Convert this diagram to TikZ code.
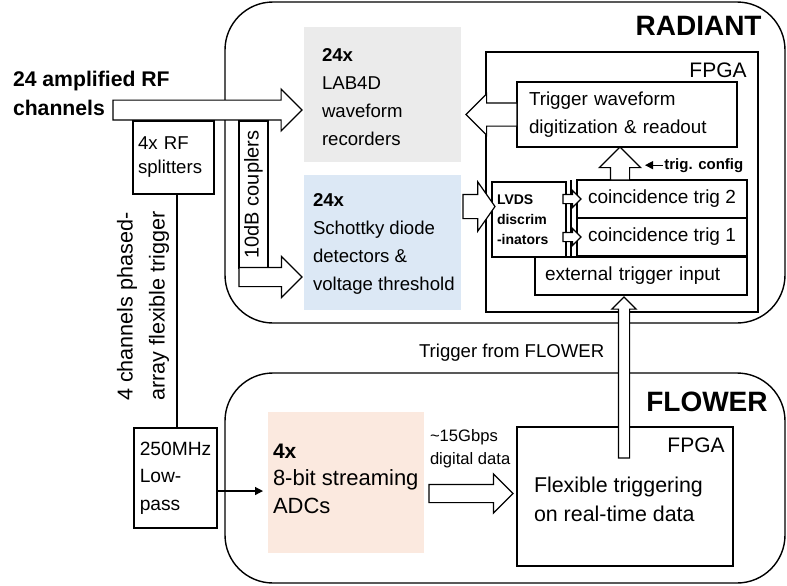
\documentclass[tikz,border=0pt]{standalone}
\usepackage{fontspec}
\setmainfont{Liberation Sans}
\usetikzlibrary{shapes.arrows,arrows.meta}

\definecolor{labgray}{HTML}{EBEBEB}
\definecolor{schblue}{HTML}{DCE8F5}
\definecolor{adcpeach}{HTML}{FBE9DF}

\begin{document}
\begin{tikzpicture}[x=0.5pt, y=-0.5pt,
  box/.style={draw, line width=0.6pt, inner sep=0pt, outer sep=0pt, align=left, font=\fontsize{9.3}{13.9}\selectfont},
  panel/.style={draw, line width=0.7pt, rounded corners=24pt, inner sep=0pt, outer sep=0pt},
  fpga/.style={draw, line width=1.1pt, inner sep=0pt, outer sep=0pt},
  shade/.style={inner sep=0pt, outer sep=0pt},
  txt/.style={inner sep=0pt, outer sep=0pt, align=left, font=\fontsize{9.3}{13.9}\selectfont},
  title/.style={inner sep=0pt, anchor=base east, font=\fontsize{14}{16}\selectfont\bfseries},
  fat/.style 2 args={single arrow, draw, fill=white, line width=0.6pt, inner xsep=0pt, inner ysep=#1, single arrow head extend=#2, single arrow tip angle=90, outer sep=0pt, minimum width=0pt, anchor=tail},
  thin/.style={line width=0.6pt, -{Triangle[length=4pt,width=4pt]}}
]
\useasboundingbox (0,0) rectangle (787,585);

\node[panel, minimum width=280pt, minimum height=160.5pt] (radiant) at (505,162.5) {};
\node[panel, minimum width=280pt, minimum height=105pt] (flower) at (505,478) {};
\node[title] (radianttitle) at (762,35) {RADIANT};
\node[title] (flowertitle) at (768,411) {FLOWER};

\node[txt, anchor=north west, font=\fontsize{10.6}{14.5}\selectfont\bfseries] (rftxt) at (13,71) {24 amplified RF\\channels};
\coordinate (rfend) at (113,110);

\node[box, minimum width=40.5pt, minimum height=36.5pt, text width=35.5pt, inner xsep=2.5pt, font=\fontsize{9.3}{12}\selectfont] (split) at (173.5,157.5) {4x RF\\splitters};
\node[box, rotate=90, align=center, minimum width=73.5pt, minimum height=14.5pt, font=\fontsize{10}{12}\selectfont] (coup) at (253.5,194.5) {10dB couplers};
\coordinate (coupout) at (239,277);

\node[shade, fill=labgray, minimum width=78.5pt, minimum height=67.5pt] (lab) at (382.5,94.5) {};
\node[txt, anchor=north west] (labtxt) at (322,49) {\textbf{24x}\\LAB4D\\waveform\\recorders};
\node[shade, fill=schblue, minimum width=78.5pt, minimum height=67.5pt] (sch) at (382.5,242.5) {};
\node[txt, anchor=north west, font=\fontsize{9.3}{14}\selectfont] (schtxt) at (313,194) {\textbf{24x}\\Schottky diode\\detectors \&\\voltage threshold};
\coordinate (schout) at (463,206.5);

\node[fpga, minimum width=136pt, minimum height=130pt] (rfpga) at (622,182) {};
\node[inner sep=0pt, anchor=base east, font=\fontsize{10.5}{12}\selectfont] (rfpgatxt) at (747,77) {FPGA};
\node[box, minimum width=110pt, minimum height=32.5pt, text width=98pt, inner xsep=6pt, font=\fontsize{9.4}{14}\selectfont] (trw) at (627,114.5) {Trigger waveform\\digitization \& readout};
\node[box, minimum width=106pt, minimum height=19pt, text width=96pt, inner xsep=5pt, font=\fontsize{9.5}{12}\selectfont] (ext) at (641,276) {external trigger input};
\node[box, fill=white, minimum width=37pt, minimum height=37.5pt, text width=32pt, inner xsep=2.5pt, font=\fontsize{7}{10}\selectfont\bfseries] (lvds) at (529,219.5) {LVDS\\discrim\\-inators};
\node[box, minimum width=85pt, minimum height=19pt, font=\fontsize{9.5}{12}\selectfont] (ct2) at (662,199) {coincidence trig 2};
\node[box, minimum width=85pt, minimum height=19pt, font=\fontsize{9.5}{12}\selectfont] (ct1) at (662,237) {coincidence trig 1};
\draw [line width=0.6pt] (ct2.north west) ++(-6,0) -- ++(0,77);
\node[inner sep=0pt, anchor=base west, font=\fontsize{7.5}{9}\selectfont\bfseries] (trigcfg) at (664,169) {trig. config};
\draw [thin] ([xshift=-0.5pt]trigcfg.west) -- ++(-18,0);

\node[txt, rotate=90, font=\fontsize{10.8}{16}\selectfont] (phased) at (143,306) {4 channels phased-\\array flexible trigger};
\node[box, minimum width=41.5pt, minimum height=50pt, font=\fontsize{9.6}{13.75}\selectfont] (lp) at (175.5,478) {250MHz\\Low-\\pass};
\draw [line width=0.6pt] (split.south) ++(3.5,0) -- ++(0,234);
\node[shade, fill=adcpeach, minimum width=78pt, minimum height=70.5pt] (adc) at (346,482.5) {};
\node[txt, anchor=north west, font=\fontsize{11}{13.75}\selectfont] (adctxt) at (273,444) {{\fontsize{10.5}{12}\selectfont\bfseries 4x}\\8-bit streaming\\ADCs};
\draw [thin] ([yshift=-6.5pt]lp.east) -- ++(46,0);
\coordinate (adcout) at (429,493.5);
\node[txt, anchor=north west, font=\fontsize{8.3}{11.5}\selectfont] (gbps) at (430,429) {\textasciitilde 15Gbps\\digital data};

\node[fpga, minimum width=108pt, minimum height=69.5pt] (ffpga) at (625,496.5) {};
\node[inner sep=0pt, anchor=base east, font=\fontsize{10.5}{12}\selectfont] (ffpgatxt) at (725,452) {FPGA};
\node[txt, anchor=north west, font=\fontsize{10.7}{14.5}\selectfont] (flextxt) at (534,477) {Flexible triggering\\on real-time data};
\node[txt, anchor=base west] (fromflower) at (419,357) {Trigger from FLOWER};
\coordinate (flowsrc) at (624,458);

\node[fat={4.65pt}{5.5pt}, minimum height=94.5pt] (inarr) at (rfend) {};
\node[fat={4.5pt}{5.5pt}, minimum height=31.5pt] (couparr) at (coupout) {};
\node[fat={5.5pt}{4.5pt}, minimum height=25.5pt, rotate=180] (rdarr) at (trw.west) {};
\node[fat={5.75pt}{6.25pt}, minimum height=16pt, single arrow tip angle=110] (scharr) at (schout) {};
\node[fat={4.5pt}{5.5pt}, minimum height=16.5pt, rotate=90] (uparr) at ([xshift=-21pt]ct2.north) {};
\node[fat={2pt}{2pt}, minimum height=9pt] (sarr2) at ([xshift=-7pt]ct2.west) {};
\node[fat={2pt}{2pt}, minimum height=9pt] (sarr1) at ([xshift=-7pt]ct1.west) {};
\node[fat={4.25pt}{5.25pt}, minimum height=42pt] (dataarr) at (adcout) {};
\node[fat={2.5pt}{3.25pt}, minimum height=80.5pt, rotate=90] (flowarr) at (flowsrc) {};
\end{tikzpicture}
\end{document}
